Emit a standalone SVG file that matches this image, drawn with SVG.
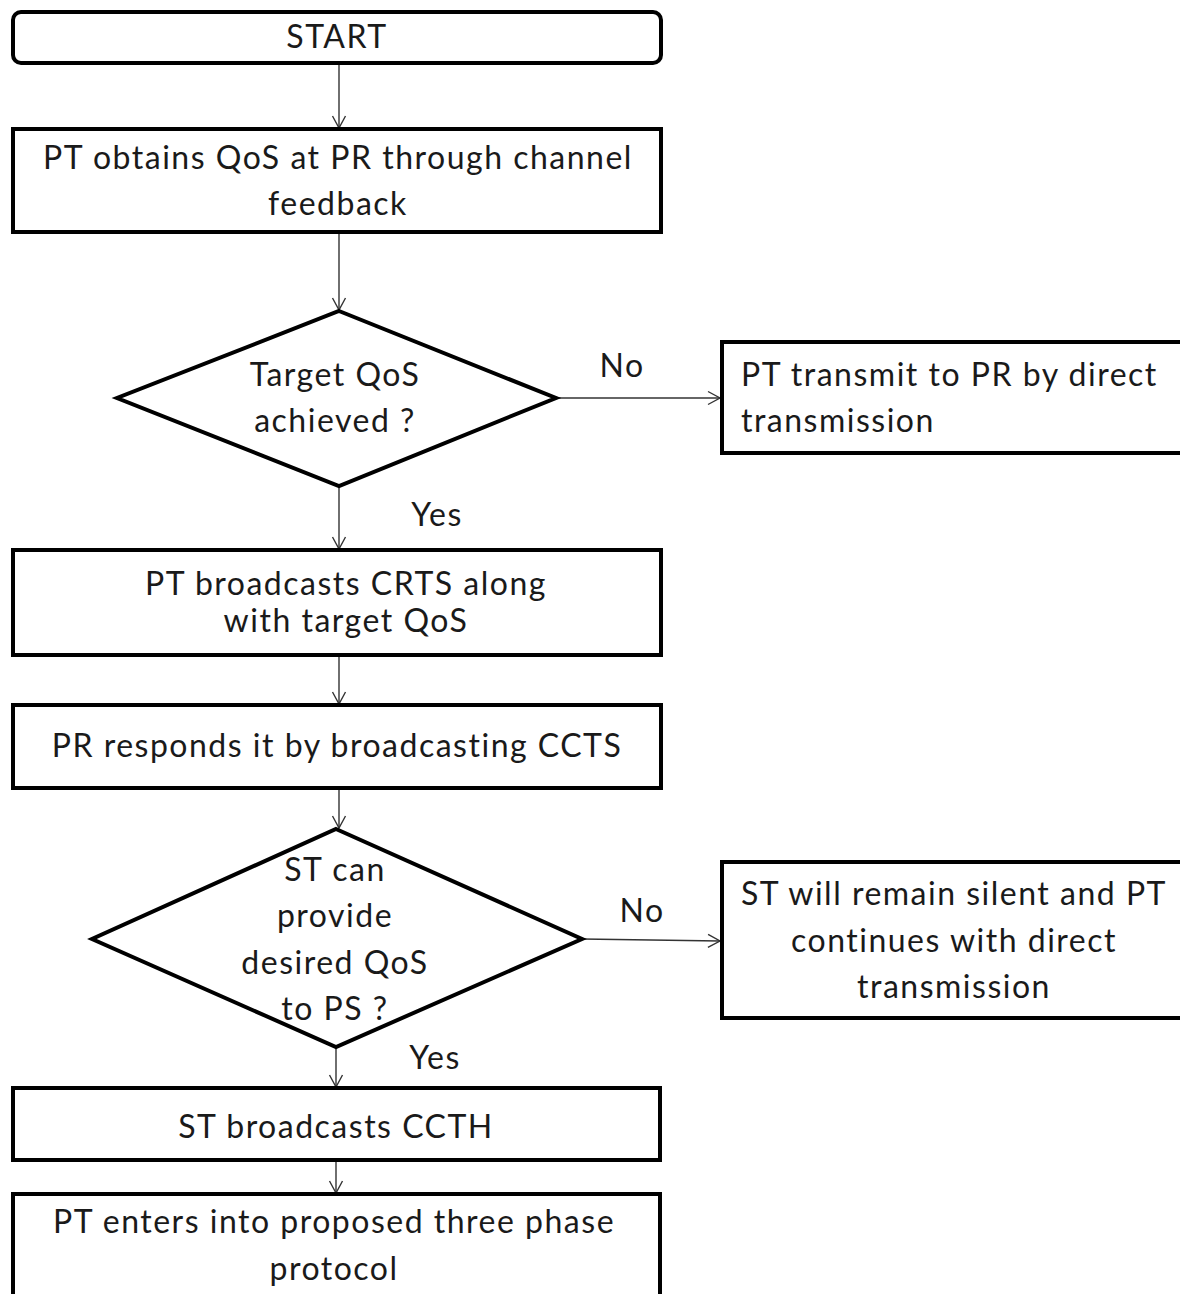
<svg xmlns="http://www.w3.org/2000/svg" width="1180" height="1294" viewBox="0 0 1180 1294">
  <style>
    .box { fill: #ffffff; stroke: #000000; stroke-width: 4; }
    .lbl { font-family: Lato, "Open Sans", "Liberation Sans", sans-serif; font-size: 32px; letter-spacing: 1.5px; fill: #1a1a1a; }
    .mid { text-anchor: middle; }
    .edge { fill: none; stroke: #333333; stroke-width: 1.4; marker-end: url(#vhead); }
  </style>
  <defs>
    <marker id="vhead" markerUnits="userSpaceOnUse" markerWidth="14" markerHeight="16" refX="13" refY="8" orient="auto">
      <path d="M1,1.5 L13,8 L1,14.5" fill="none" stroke="#333333" stroke-width="1.4"/>
    </marker>
  </defs>
  <rect width="1180" height="1294" fill="#ffffff"/>

  <!-- connectors -->
  <g id="connectors">
    <line class="edge" x1="339" y1="63" x2="339" y2="128"/>
    <line class="edge" x1="339" y1="232" x2="339" y2="310"/>
    <line class="edge" x1="556" y1="398" x2="720" y2="398"/>
    <line class="edge" x1="339" y1="486" x2="339" y2="549"/>
    <line class="edge" x1="339" y1="655" x2="339" y2="704"/>
    <line class="edge" x1="339" y1="788" x2="339" y2="828"/>
    <line class="edge" x1="582" y1="939" x2="720" y2="941"/>
    <line class="edge" x1="336" y1="1047" x2="336" y2="1087"/>
    <line class="edge" x1="336" y1="1160" x2="336" y2="1193"/>
    <text class="lbl mid" x="622" y="377">No</text>
    <text class="lbl mid" x="437" y="526">Yes</text>
    <text class="lbl mid" x="642" y="922">No</text>
    <text class="lbl mid" x="435" y="1069">Yes</text>
  </g>

  <g id="start">
    <rect class="box" x="13" y="12" width="648" height="51" rx="8"/>
    <text class="lbl mid" x="337" y="48">START</text>
  </g>

  <g id="obtain-qos">
    <rect class="box" x="13" y="129" width="648" height="103"/>
    <text class="lbl mid" x="338" y="169">PT obtains QoS at PR through channel</text>
    <text class="lbl mid" x="338" y="215">feedback</text>
  </g>

  <g id="target-qos">
    <polygon class="box" points="339,311 556,398 339,486 117,398"/>
    <text class="lbl mid" x="335" y="386">Target QoS</text>
    <text class="lbl mid" x="335" y="432">achieved ?</text>
  </g>

  <g id="direct-tx">
    <rect class="box" x="722" y="342" width="470" height="111"/>
    <text class="lbl" x="741" y="386">PT transmit to PR by direct</text>
    <text class="lbl" x="741" y="432">transmission</text>
  </g>

  <g id="crts">
    <rect class="box" x="13" y="550" width="648" height="105"/>
    <text class="lbl mid" x="346" y="595">PT broadcasts CRTS along</text>
    <text class="lbl mid" x="346" y="632">with target QoS</text>
  </g>

  <g id="ccts">
    <rect class="box" x="13" y="705" width="648" height="83"/>
    <text class="lbl mid" x="337" y="757">PR responds it by broadcasting CCTS</text>
  </g>

  <g id="st-provide">
    <polygon class="box" points="336,829 582,939 336,1047 92,939"/>
    <text class="lbl mid" x="335" y="881">ST can</text>
    <text class="lbl mid" x="335" y="927">provide</text>
    <text class="lbl mid" x="335" y="974">desired QoS</text>
    <text class="lbl mid" x="335" y="1020">to PS ?</text>
  </g>

  <g id="st-silent">
    <rect class="box" x="722" y="862" width="470" height="156"/>
    <text class="lbl mid" x="954" y="905">ST will remain silent and PT</text>
    <text class="lbl mid" x="954" y="952">continues with direct</text>
    <text class="lbl mid" x="954" y="998">transmission</text>
  </g>

  <g id="ccth">
    <rect class="box" x="13" y="1088" width="647" height="72"/>
    <text class="lbl mid" x="336" y="1138">ST broadcasts CCTH</text>
  </g>

  <g id="three-phase">
    <rect class="box" x="13" y="1194" width="647" height="120"/>
    <text class="lbl mid" x="334" y="1233">PT enters into proposed three phase</text>
    <text class="lbl mid" x="334" y="1280">protocol</text>
  </g>
</svg>
